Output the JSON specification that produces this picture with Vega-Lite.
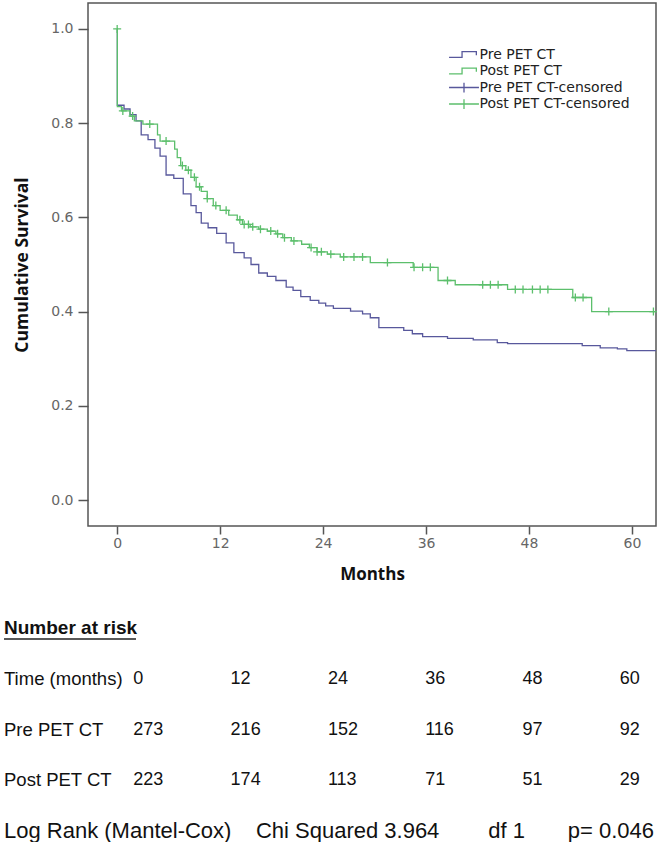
{
  "$schema": "https://vega.github.io/schema/vega-lite/v6.json",
  "padding": {"left": 3, "top": 2, "right": 0, "bottom": 0},
  "background": "white",
  "bounds": "flush",
  "spacing": 102,
  "config": {"view": {"stroke": null}},
  "datasets": {
    "curves": [
      {"group": "Pre PET CT", "t": 0, "s": 1.0},
      {"group": "Pre PET CT", "t": 0.02, "s": 0.838},
      {"group": "Pre PET CT", "t": 0.8, "s": 0.83},
      {"group": "Pre PET CT", "t": 1.5, "s": 0.818},
      {"group": "Pre PET CT", "t": 2.2, "s": 0.805},
      {"group": "Pre PET CT", "t": 2.8, "s": 0.775},
      {"group": "Pre PET CT", "t": 3.6, "s": 0.765},
      {"group": "Pre PET CT", "t": 4.4, "s": 0.747},
      {"group": "Pre PET CT", "t": 5.0, "s": 0.73},
      {"group": "Pre PET CT", "t": 5.7, "s": 0.69},
      {"group": "Pre PET CT", "t": 6.6, "s": 0.683},
      {"group": "Pre PET CT", "t": 7.7, "s": 0.65},
      {"group": "Pre PET CT", "t": 8.6, "s": 0.625},
      {"group": "Pre PET CT", "t": 9.2, "s": 0.61},
      {"group": "Pre PET CT", "t": 9.8, "s": 0.588},
      {"group": "Pre PET CT", "t": 10.6, "s": 0.578},
      {"group": "Pre PET CT", "t": 11.6, "s": 0.566},
      {"group": "Pre PET CT", "t": 12.7, "s": 0.546},
      {"group": "Pre PET CT", "t": 13.6, "s": 0.525},
      {"group": "Pre PET CT", "t": 14.8, "s": 0.514},
      {"group": "Pre PET CT", "t": 15.6, "s": 0.5},
      {"group": "Pre PET CT", "t": 16.5, "s": 0.482},
      {"group": "Pre PET CT", "t": 17.5, "s": 0.475},
      {"group": "Pre PET CT", "t": 18.5, "s": 0.466},
      {"group": "Pre PET CT", "t": 19.7, "s": 0.452},
      {"group": "Pre PET CT", "t": 20.5, "s": 0.445},
      {"group": "Pre PET CT", "t": 21.4, "s": 0.432},
      {"group": "Pre PET CT", "t": 22.5, "s": 0.424},
      {"group": "Pre PET CT", "t": 23.5, "s": 0.418},
      {"group": "Pre PET CT", "t": 24.3, "s": 0.412},
      {"group": "Pre PET CT", "t": 25.2, "s": 0.407},
      {"group": "Pre PET CT", "t": 27.2, "s": 0.401},
      {"group": "Pre PET CT", "t": 28.6, "s": 0.395},
      {"group": "Pre PET CT", "t": 29.5, "s": 0.387},
      {"group": "Pre PET CT", "t": 30.5, "s": 0.366},
      {"group": "Pre PET CT", "t": 33.4, "s": 0.36},
      {"group": "Pre PET CT", "t": 34.4, "s": 0.353},
      {"group": "Pre PET CT", "t": 35.6, "s": 0.347},
      {"group": "Pre PET CT", "t": 38.5, "s": 0.343},
      {"group": "Pre PET CT", "t": 41.5, "s": 0.34},
      {"group": "Pre PET CT", "t": 44.3, "s": 0.334},
      {"group": "Pre PET CT", "t": 45.5, "s": 0.332},
      {"group": "Pre PET CT", "t": 54.2, "s": 0.328},
      {"group": "Pre PET CT", "t": 56.3, "s": 0.323},
      {"group": "Pre PET CT", "t": 58.3, "s": 0.321},
      {"group": "Pre PET CT", "t": 59.4, "s": 0.317},
      {"group": "Pre PET CT", "t": 62.8, "s": 0.317},
      {"group": "Post PET CT", "t": 0, "s": 1.0},
      {"group": "Post PET CT", "t": 0.02, "s": 0.835},
      {"group": "Post PET CT", "t": 0.5, "s": 0.826},
      {"group": "Post PET CT", "t": 1.5, "s": 0.815},
      {"group": "Post PET CT", "t": 2.0, "s": 0.805},
      {"group": "Post PET CT", "t": 3.0, "s": 0.798},
      {"group": "Post PET CT", "t": 4.7, "s": 0.775},
      {"group": "Post PET CT", "t": 5.0, "s": 0.762},
      {"group": "Post PET CT", "t": 6.7, "s": 0.745},
      {"group": "Post PET CT", "t": 7.0, "s": 0.727},
      {"group": "Post PET CT", "t": 7.4, "s": 0.71},
      {"group": "Post PET CT", "t": 8.0, "s": 0.70},
      {"group": "Post PET CT", "t": 8.6, "s": 0.685},
      {"group": "Post PET CT", "t": 9.2, "s": 0.665},
      {"group": "Post PET CT", "t": 9.8, "s": 0.655},
      {"group": "Post PET CT", "t": 10.5, "s": 0.64},
      {"group": "Post PET CT", "t": 11.2, "s": 0.625},
      {"group": "Post PET CT", "t": 12.0, "s": 0.615},
      {"group": "Post PET CT", "t": 13.0, "s": 0.605},
      {"group": "Post PET CT", "t": 14.0, "s": 0.595},
      {"group": "Post PET CT", "t": 14.6, "s": 0.585},
      {"group": "Post PET CT", "t": 15.5, "s": 0.58},
      {"group": "Post PET CT", "t": 16.5, "s": 0.575},
      {"group": "Post PET CT", "t": 17.5, "s": 0.571},
      {"group": "Post PET CT", "t": 18.5, "s": 0.565},
      {"group": "Post PET CT", "t": 19.3, "s": 0.557},
      {"group": "Post PET CT", "t": 20.3, "s": 0.55},
      {"group": "Post PET CT", "t": 21.5, "s": 0.543},
      {"group": "Post PET CT", "t": 22.4, "s": 0.536},
      {"group": "Post PET CT", "t": 23.3, "s": 0.527},
      {"group": "Post PET CT", "t": 24.5, "s": 0.522},
      {"group": "Post PET CT", "t": 26.0, "s": 0.516},
      {"group": "Post PET CT", "t": 29.5, "s": 0.504},
      {"group": "Post PET CT", "t": 34.5, "s": 0.494},
      {"group": "Post PET CT", "t": 37.4, "s": 0.466},
      {"group": "Post PET CT", "t": 39.4, "s": 0.457},
      {"group": "Post PET CT", "t": 45.5, "s": 0.447},
      {"group": "Post PET CT", "t": 53.1, "s": 0.43},
      {"group": "Post PET CT", "t": 55.3, "s": 0.40},
      {"group": "Post PET CT", "t": 62.8, "s": 0.40}
    ],
    "censored": [
      {"group": "Post PET CT-censored", "t": 0, "s": 1.0},
      {"group": "Post PET CT-censored", "t": 0.66, "s": 0.826},
      {"group": "Post PET CT-censored", "t": 1.8, "s": 0.815},
      {"group": "Post PET CT-censored", "t": 3.8, "s": 0.798},
      {"group": "Post PET CT-censored", "t": 5.7, "s": 0.762},
      {"group": "Post PET CT-censored", "t": 7.6, "s": 0.71},
      {"group": "Post PET CT-censored", "t": 8.3, "s": 0.70},
      {"group": "Post PET CT-censored", "t": 9.0, "s": 0.685},
      {"group": "Post PET CT-censored", "t": 9.6, "s": 0.665},
      {"group": "Post PET CT-censored", "t": 10.5, "s": 0.64},
      {"group": "Post PET CT-censored", "t": 11.5, "s": 0.625},
      {"group": "Post PET CT-censored", "t": 12.7, "s": 0.615},
      {"group": "Post PET CT-censored", "t": 14.3, "s": 0.595},
      {"group": "Post PET CT-censored", "t": 14.8, "s": 0.585},
      {"group": "Post PET CT-censored", "t": 15.3, "s": 0.585},
      {"group": "Post PET CT-censored", "t": 15.8, "s": 0.58},
      {"group": "Post PET CT-censored", "t": 16.7, "s": 0.575},
      {"group": "Post PET CT-censored", "t": 17.9, "s": 0.571},
      {"group": "Post PET CT-censored", "t": 18.7, "s": 0.565},
      {"group": "Post PET CT-censored", "t": 19.5, "s": 0.557},
      {"group": "Post PET CT-censored", "t": 20.6, "s": 0.55},
      {"group": "Post PET CT-censored", "t": 22.6, "s": 0.536},
      {"group": "Post PET CT-censored", "t": 23.3, "s": 0.527},
      {"group": "Post PET CT-censored", "t": 23.8, "s": 0.527},
      {"group": "Post PET CT-censored", "t": 24.9, "s": 0.522},
      {"group": "Post PET CT-censored", "t": 26.4, "s": 0.516},
      {"group": "Post PET CT-censored", "t": 27.6, "s": 0.516},
      {"group": "Post PET CT-censored", "t": 28.6, "s": 0.516},
      {"group": "Post PET CT-censored", "t": 31.5, "s": 0.504},
      {"group": "Post PET CT-censored", "t": 34.6, "s": 0.494},
      {"group": "Post PET CT-censored", "t": 35.6, "s": 0.494},
      {"group": "Post PET CT-censored", "t": 36.5, "s": 0.494},
      {"group": "Post PET CT-censored", "t": 38.5, "s": 0.466},
      {"group": "Post PET CT-censored", "t": 42.6, "s": 0.457},
      {"group": "Post PET CT-censored", "t": 43.5, "s": 0.457},
      {"group": "Post PET CT-censored", "t": 44.4, "s": 0.457},
      {"group": "Post PET CT-censored", "t": 46.4, "s": 0.447},
      {"group": "Post PET CT-censored", "t": 47.3, "s": 0.447},
      {"group": "Post PET CT-censored", "t": 48.4, "s": 0.447},
      {"group": "Post PET CT-censored", "t": 49.3, "s": 0.447},
      {"group": "Post PET CT-censored", "t": 50.2, "s": 0.447},
      {"group": "Post PET CT-censored", "t": 53.4, "s": 0.43},
      {"group": "Post PET CT-censored", "t": 54.3, "s": 0.43},
      {"group": "Post PET CT-censored", "t": 57.3, "s": 0.40},
      {"group": "Post PET CT-censored", "t": 62.5, "s": 0.40}
    ],
    "risk": [
      {"row": "Time (months)", "time": 0, "n": "0"},
      {"row": "Time (months)", "time": 12, "n": "12"},
      {"row": "Time (months)", "time": 24, "n": "24"},
      {"row": "Time (months)", "time": 36, "n": "36"},
      {"row": "Time (months)", "time": 48, "n": "48"},
      {"row": "Time (months)", "time": 60, "n": "60"},
      {"row": "Pre PET CT", "time": 0, "n": "273"},
      {"row": "Pre PET CT", "time": 12, "n": "216"},
      {"row": "Pre PET CT", "time": 24, "n": "152"},
      {"row": "Pre PET CT", "time": 36, "n": "116"},
      {"row": "Pre PET CT", "time": 48, "n": "97"},
      {"row": "Pre PET CT", "time": 60, "n": "92"},
      {"row": "Post PET CT", "time": 0, "n": "223"},
      {"row": "Post PET CT", "time": 12, "n": "174"},
      {"row": "Post PET CT", "time": 24, "n": "113"},
      {"row": "Post PET CT", "time": 36, "n": "71"},
      {"row": "Post PET CT", "time": 48, "n": "51"},
      {"row": "Post PET CT", "time": 60, "n": "29"}
    ],
    "tablelabels": [
      {"row": "Number at risk", "label": "Number at risk"},
      {"row": "Time (months)", "label": "Time (months)"},
      {"row": "Pre PET CT", "label": "Pre PET CT"},
      {"row": "Post PET CT", "label": "Post PET CT"},
      {"row": "Log Rank", "label": "Log Rank (Mantel-Cox)\u00a0\u00a0\u00a0\u00a0Chi Squared 3.964\u00a0\u00a0\u00a0\u00a0\u00a0\u00a0\u00a0\u00a0df 1\u00a0\u00a0\u00a0\u00a0\u00a0\u00a0\u00a0p= 0.046"}
    ]
  },
  "vconcat": [
    {
      "width": 568,
      "height": 523,
      "view": {"stroke": "#555", "strokeWidth": 1.5},
      "layer": [
        {
          "data": {"name": "curves"},
          "mark": {"type": "line", "interpolate": "step-after", "strokeWidth": 1.3},
          "encoding": {
            "x": {
              "field": "t", "type": "quantitative",
              "scale": {"domain": [-3.4, 62.8], "nice": false, "zero": false},
              "axis": {
                "values": [0, 12, 24, 36, 48, 60], "title": "Months", "grid": false, "domain": false,
                "titleFont": "Open Sans", "titleFontSize": 17, "titleFontWeight": "bold", "titleColor": "#111", "titlePadding": 16,
                "labelFont": "DejaVu Sans", "labelFontSize": 14, "labelColor": "#666", "labelPadding": 2,
                "tickColor": "#555", "tickWidth": 1.5, "tickSize": 8
              }
            },
            "y": {
              "field": "s", "type": "quantitative",
              "scale": {"domain": [-0.055, 1.055], "nice": false, "zero": false},
              "axis": {
                "values": [0, 0.2, 0.4, 0.6, 0.8, 1.0], "format": ".1f", "title": "Cumulative Survival", "grid": false, "domain": false,
                "titleFont": "Open Sans", "titleFontSize": 17.5, "titleFontWeight": "bold", "titleColor": "#111", "titlePadding": 19,
                "labelFont": "DejaVu Sans", "labelFontSize": 14, "labelColor": "#666", "labelPadding": 5,
                "tickColor": "#555", "tickWidth": 1.5, "tickSize": 10
              }
            },
            "color": {
              "field": "group", "type": "nominal",
              "scale": {
                "domain": ["Pre PET CT", "Post PET CT", "Pre PET CT-censored", "Post PET CT-censored"],
                "range": ["#58589c", "#5cbf6c", "#58589c", "#5cbf6c"]
              },
              "legend": {
                "orient": "none", "legendX": 368.5, "legendY": 44, "title": null, "padding": 0,
                "labelFont": "DejaVu Sans", "labelFontSize": 14, "labelColor": "#222", "labelOffset": 8,
                "symbolSize": 169, "symbolStrokeWidth": 1.3, "symbolOpacity": 1, "rowPadding": 1.5,
                "symbolType": "M-2.3,0H2.3M0,-0.75V0.75",
                "encode": {
                  "symbols": {
                    "update": {
                      "shape": {"signal": "indexof(datum.value, 'censored') >= 0 ? 'M-2.3,0H2.3M0,-0.75V0.75' : 'M-2.3,0.45H-0.3V-0.45H1.9V0.1'"},
                      "fill": {"value": "transparent"}
                    }
                  }
                }
              }
            }
          }
        },
        {
          "data": {"name": "censored"},
          "mark": {"type": "point", "shape": "M-1,0H1M0,-1V1", "filled": false, "size": 64, "strokeWidth": 1.3, "opacity": 1},
          "encoding": {
            "x": {"field": "t", "type": "quantitative"},
            "y": {"field": "s", "type": "quantitative"},
            "color": {
              "field": "group", "type": "nominal",
              "legend": {
                "orient": "none", "legendX": 368.5, "legendY": 44, "title": null, "padding": 0,
                "labelFont": "DejaVu Sans", "labelFontSize": 14, "labelColor": "#222", "labelOffset": 8,
                "symbolSize": 169, "symbolStrokeWidth": 1.3, "symbolOpacity": 1, "rowPadding": 1.5,
                "symbolType": "M-2.3,0H2.3M0,-0.75V0.75",
                "encode": {
                  "symbols": {
                    "update": {
                      "shape": {"signal": "indexof(datum.value, 'censored') >= 0 ? 'M-2.3,0H2.3M0,-0.75V0.75' : 'M-2.3,0.45H-0.3V-0.45H1.9V0.1'"},
                      "fill": {"value": "transparent"}
                    }
                  }
                }
              }
            }
          }
        }
      ]
    },
    {
      "width": 568,
      "height": 203,
      "view": {"stroke": null},
      "layer": [
        {
          "data": {"name": "risk"},
          "mark": {"type": "text", "align": "left", "baseline": "middle", "font": "Liberation Sans", "fontSize": 18, "color": "#111"},
          "encoding": {
            "x": {"field": "time", "type": "quantitative", "scale": {"domain": [-5.59, 64.47], "nice": false, "zero": false}, "axis": null},
            "y": {"field": "row", "type": "nominal", "scale": {"type": "point", "domain": ["Number at risk", "Time (months)", "Pre PET CT", "Post PET CT", "Log Rank"], "padding": 0}, "axis": null},
            "text": {"field": "n"}
          }
        },
        {
          "data": {"name": "tablelabels"},
          "transform": [{"filter": "datum.row == 'Time (months)' || datum.row == 'Pre PET CT' || datum.row == 'Post PET CT'"}],
          "mark": {"type": "text", "align": "left", "baseline": "middle", "font": "Liberation Sans", "fontSize": 18.5, "color": "#111"},
          "encoding": {
            "x": {"datum": -15.95, "type": "quantitative"},
            "y": {"field": "row", "type": "nominal"},
            "text": {"field": "label"}
          }
        },
        {
          "data": {"name": "tablelabels"},
          "transform": [{"filter": "datum.row == 'Number at risk'"}],
          "mark": {"type": "text", "align": "left", "baseline": "middle", "font": "Liberation Sans", "fontSize": 19, "fontWeight": "bold", "color": "#111"},
          "encoding": {
            "x": {"datum": -15.95, "type": "quantitative"},
            "y": {"field": "row", "type": "nominal"},
            "text": {"field": "label"}
          }
        },
        {
          "data": {"name": "tablelabels"},
          "transform": [{"filter": "datum.row == 'Number at risk'"}],
          "mark": {"type": "rule", "color": "#222", "strokeWidth": 1.6, "yOffset": 11},
          "encoding": {
            "x": {"datum": -15.95, "type": "quantitative"},
            "x2": {"datum": 0.33},
            "y": {"field": "row", "type": "nominal"}
          }
        },
        {
          "data": {"name": "tablelabels"},
          "transform": [{"filter": "datum.row == 'Log Rank'"}],
          "mark": {"type": "text", "align": "left", "baseline": "middle", "font": "Liberation Sans", "fontSize": 22, "color": "#111"},
          "encoding": {
            "x": {"datum": -15.95, "type": "quantitative"},
            "y": {"field": "row", "type": "nominal"},
            "text": {"field": "label"}
          }
        }
      ]
    }
  ]
}
